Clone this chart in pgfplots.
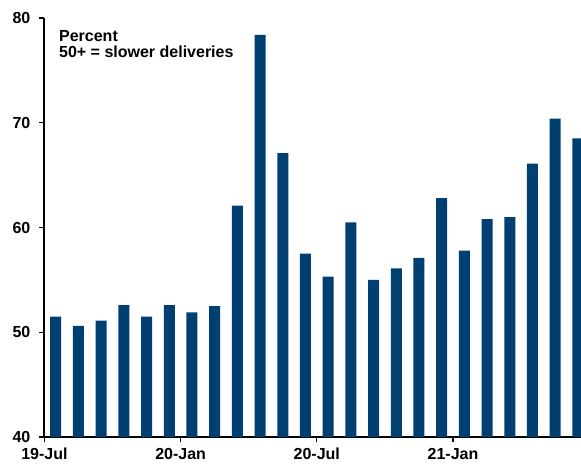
\documentclass[border=0pt]{standalone}
\usepackage{fontspec}
\setmainfont{Liberation Sans}
\usepackage{pgfplots}
\pgfplotsset{compat=1.18}
\definecolor{barblue}{RGB}{0,63,114}
\begin{document}
\begin{tikzpicture}
\path[use as bounding box] (0,0) rectangle (435.75pt,348pt);
\begin{axis}[
    at={(33.3pt,20.25pt)}, anchor=south west,
    scale only axis, width=402.3pt, height=314.25pt,
    xmin=-0.5, xmax=23.13, ymin=40, ymax=80,
    ytick={40,50,60,70,80},
    xtick={-0.5,5.5,11.5,17.5},
    xticklabels={19-Jul,20-Jan,20-Jul,21-Jan},
    axis x line*=bottom, axis y line*=left,
    axis line style={line width=1.6pt, -},
    tick align=outside, major tick length=4pt,
    tick style={black, line width=1pt},
    ticklabel style={font=\bfseries\fontsize{12}{14}\selectfont},
    yticklabel style={xshift=-3pt},
    xticklabel style={yshift=-1pt},
    /pgf/number format/assume math mode=true,
    ybar, bar width=8.25pt,
]
\addplot[fill=barblue, draw=none] coordinates {
(0,51.5) (1,50.6) (2,51.1) (3,52.6) (4,51.5) (5,52.6)
(6,51.9) (7,52.5) (8,62.1) (9,78.4) (10,67.1) (11,57.5)
(12,55.3) (13,60.5) (14,55.0) (15,56.1) (16,57.1) (17,62.8)
(18,57.8) (19,60.8) (20,61.0) (21,66.1) (22,70.4) (23,68.5)
};
\node[anchor=north west, align=left, inner sep=0pt,
      font=\bfseries\fontsize{12}{11.8}\selectfont]
  at (rel axis cs:0.027,0.971) {Percent\\50+ = slower deliveries};
\end{axis}
\end{tikzpicture}
\end{document}
